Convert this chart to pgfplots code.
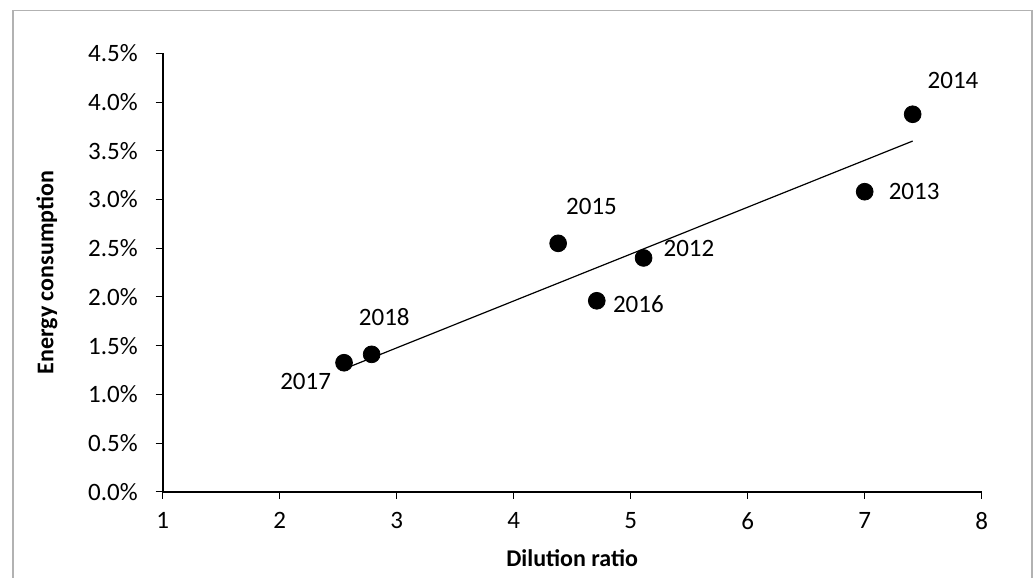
\documentclass[border=0pt]{standalone}
\usepackage{pgfplots}
\usepackage{pgfplotstable}
\usepackage{fontspec}
\setmainfont{Carlito}
\pgfplotsset{compat=1.18}

% dilution ratio, energy consumption (%), year, label offset (pt)
\pgfplotstableread{
x     y      lab   dx     dy
5.11  2.40   2012  22.7   4.7
7.00  3.08   2013  24.7   0
7.41  3.875  2014  20.2   16.8
4.38  2.55   2015  16.7   18.3
4.71  1.96   2016  20.8   -1.7
2.55  1.324  2017  -19.2  -9.2
2.786 1.41   2018  6.3    18.5
}\datatable

\begin{document}
\begin{tikzpicture}
    \path[use as bounding box] (0,0) rectangle (517.5pt,289pt);
    \draw[line width=0.8pt, black!30] (6.35pt,283.65pt) rectangle (516pt,-2pt);
    \begin{axis}[
            at={(81.35pt,43.15pt)},
            anchor=south west,
            scale only axis,
            width  = 409.5pt,
            height = 219.15pt,
            xmin=1, xmax=8,
            ymin=0, ymax=4.5,
            xtick={1,...,8},
            ytick={0,0.5,...,4.5},
            axis lines*=left,
            axis line style={line width=1pt, -},
            tick align=outside,
            major tick length=3.5pt,
            tick style={black, thin},
            /pgf/number format/assume math mode=true,
            xticklabel style={font=\fontsize{12.5}{15}\selectfont, yshift=-3.3pt},
            yticklabel style={font=\fontsize{12.5}{15}\selectfont, xshift=-5.5pt},
            yticklabel={\pgfmathprintnumber[fixed,fixed zerofill,precision=1,assume math mode=true]{\tick}\%},
            xlabel={Dilution ratio},
            ylabel={Energy consumption},
            every axis x label/.style={at={(axis description cs:0.5,-0.1513)}, anchor=center},
            every axis y label/.style={at={(axis description cs:-0.1413,0.5)}, rotate=90, anchor=center},
            label style={font=\bfseries\fontsize{12}{14}\selectfont},
            clip=false,
        ]

        \addplot[black, line width=0.6pt, no marks] coordinates {
            (2.55,1.26) (7.41,3.60)
        };

        \addplot[
            only marks,
            mark=*,
            mark size=4.2pt,
            mark options={fill=black, draw=black},
            point meta=explicit symbolic,
            visualization depends on={\thisrow{dx} \as \dx},
            visualization depends on={\thisrow{dy} \as \dy},
            nodes near coords,
            nodes near coords style={anchor=center, xshift=\dx pt, yshift=\dy pt,
                font=\fontsize{12.5}{15}\selectfont, text=black},
        ] table[x=x, y=y, meta=lab] {\datatable};

    \end{axis}
\end{tikzpicture}
\end{document}
